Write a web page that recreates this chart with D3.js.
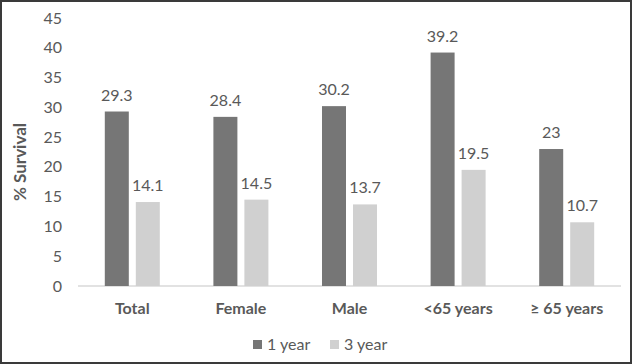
<!DOCTYPE html>
<html>
<head>
<meta charset="utf-8">
<script src="https://cdn.jsdelivr.net/npm/d3@7"></script>
<style>
  body { margin: 0; background: #fff; }
  text { font-family: Lato, "Open Sans", sans-serif; }
</style>
</head>
<body>
<div id="chart"></div>
<script>
const categories = ["Total", "Female", "Male", "<65 years", "\u2265 65 years"];
const seriesNames = ["1 year", "3 year"];
const oneYear = [29.3, 28.4, 30.2, 39.2, 23];
const threeYear = [14.1, 14.5, 13.7, 19.5, 10.7];
const yTicks = [0, 5, 10, 15, 20, 25, 30, 35, 40, 45];

const W = 632, H = 364;
const margin = { top: 18, right: 11, bottom: 78, left: 78 };
const colors = ["#767676", "#d0d0d0"];
const textColor = "#595959";

const svg = d3.select("#chart").append("svg")
    .attr("width", W)
    .attr("height", H);

svg.append("rect")
    .attr("x", 1).attr("y", 1)
    .attr("width", W - 2).attr("height", H - 2)
    .attr("fill", "#fff")
    .attr("stroke", "#3a3a3a")
    .attr("stroke-width", 2);

const x = d3.scaleBand()
    .domain(categories)
    .range([margin.left, W - margin.right]);

const y = d3.scaleLinear()
    .domain([0, 45])
    .range([H - margin.bottom, margin.top]);

// y tick labels (no gridlines in the reference)
svg.append("g")
    .selectAll("text")
    .data(yTicks)
    .join("text")
    .attr("x", 62)
    .attr("y", d => y(d))
    .attr("dy", "0.35em")
    .attr("text-anchor", "end")
    .attr("fill", textColor)
    .style("font-size", "16px")
    .text(d => d);

// baseline
svg.append("line")
    .attr("x1", margin.left)
    .attr("x2", W - margin.right)
    .attr("y1", y(0))
    .attr("y2", y(0))
    .attr("stroke", "#d9d9d9")
    .attr("stroke-width", 1.5);

const barW = 24;
const offsets = [-27.5, 3.5];
const rows = categories.map((c, i) => ({ cat: c, vals: [oneYear[i], threeYear[i]] }));

const groups = svg.append("g")
    .selectAll("g")
    .data(rows)
    .join("g")
    .attr("transform", d => `translate(${x(d.cat) + x.bandwidth() / 2},0)`);

groups.selectAll("rect")
    .data(d => d.vals)
    .join("rect")
    .attr("x", (d, i) => offsets[i])
    .attr("width", barW)
    .attr("y", d => y(d))
    .attr("height", d => y(0) - y(d))
    .attr("fill", (d, i) => colors[i]);

groups.selectAll("text.val")
    .data(d => d.vals)
    .join("text")
    .attr("class", "val")
    .attr("x", (d, i) => offsets[i] + barW / 2)
    .attr("y", d => y(d) - 11)
    .attr("text-anchor", "middle")
    .attr("fill", textColor)
    .style("font-size", "16px")
    .text(d => d);

// category labels
svg.append("g")
    .selectAll("text")
    .data(categories)
    .join("text")
    .attr("x", d => x(d) + x.bandwidth() / 2)
    .attr("y", 314)
    .attr("text-anchor", "middle")
    .attr("fill", textColor)
    .style("font-size", "16px")
    .style("font-weight", "bold")
    .text(d => d);

// y axis title
svg.append("text")
    .attr("transform", `translate(26,${(y(0) + y(45)) / 2 + 10}) rotate(-90)`)
    .attr("text-anchor", "middle")
    .attr("fill", textColor)
    .style("font-size", "17px")
    .style("font-weight", "bold")
    .text("% Survival");

// legend
const legend = svg.append("g")
    .selectAll("g")
    .data(seriesNames)
    .join("g")
    .attr("transform", (d, i) => `translate(${[253, 330][i]},340)`);

legend.append("rect")
    .attr("width", 9)
    .attr("height", 9)
    .attr("fill", (d, i) => colors[i]);

legend.append("text")
    .attr("x", 14)
    .attr("y", 4.5)
    .attr("dy", "0.35em")
    .attr("fill", textColor)
    .style("font-size", "16px")
    .text(d => d);
</script>
</body>
</html>
